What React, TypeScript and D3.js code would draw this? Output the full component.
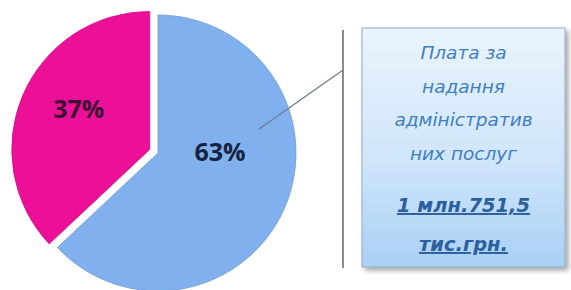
import React from "react";
import * as d3 from "d3";

const categories = ["Плата за надання адміністративних послуг", "Інші надходження"];
const shares = [63, 37];
const sliceColors = ["#80b1ee", "#ec0f98"];
const labelColors = ["#16233f", "#3b1030"];
const calloutLines = ["Плата за", "надання", "адміністратив", "них послуг"];
const amountLines = ["1 млн.751,5", "тис.грн."];

const W = 571;
const H = 290;

export default function App() {
  const cx = 158;
  const cy = 153;
  const r = 138;

  const pie = d3.pie<number>().sort(null).value((d) => d);
  const arcs = pie(shares);
  const arc = d3.arc<d3.PieArcDatum<number>>().innerRadius(0).outerRadius(r);
  const labelArc = d3.arc<d3.PieArcDatum<number>>().innerRadius(r * 0.6).outerRadius(r * 0.6);

  // the small slice is pulled out a bit
  const explode = (i: number) => {
    if (i === 0) return [0, 0];
    const a = (arcs[i].startAngle + arcs[i].endAngle) / 2;
    return [Math.sin(a) * 9, -Math.cos(a) * 9];
  };

  const boxX = 362;
  const boxY = 28;
  const boxW = 203;
  const boxH = 239;

  // leader line from the big slice to the callout
  const lead = d3.arc<d3.PieArcDatum<number>>().innerRadius(r * 0.75).outerRadius(r * 0.75);
  const leadStart = lead.centroid({ ...arcs[0], startAngle: 1.34, endAngle: 1.34 });

  // label nudges, so they sit as in the original
  const labelShift = [
    [-14, -35],
    [5, -9],
  ];

  return (
    <svg width={W} height={H} style={{ position: "absolute", left: 0, top: 0, background: "#fff" }}>
      <defs>
        <linearGradient id="boxGrad" x1="0" y1="0" x2="0" y2="1">
          <stop offset="0" stopColor="#eaf4fd" />
          <stop offset="0.55" stopColor="#cfe5fa" />
          <stop offset="1" stopColor="#a9d0f5" />
        </linearGradient>
        <filter id="shadow" x="-10%" y="-10%" width="125%" height="125%">
          <feDropShadow dx="3" dy="3" stdDeviation="2.5" floodColor="#000" floodOpacity="0.35" />
        </filter>
      </defs>

      <g transform={`translate(${cx},${cy})`}>
        {arcs.map((a, i) => {
          const [dx, dy] = explode(i);
          return (
            <path
              key={categories[i]}
              d={arc(a) || ""}
              transform={`translate(${dx},${dy})`}
              fill={sliceColors[i]}
              stroke={i === 0 ? "#6f9bd4" : "#d00c86"}
              strokeWidth={0.8}
            />
          );
        })}
        <line
          x1={leadStart[0]}
          y1={leadStart[1]}
          x2={343 - cx}
          y2={70 - cy}
          stroke="#6c7d92"
          strokeWidth={1.3}
        />
        {arcs.map((a, i) => {
          const [dx, dy] = explode(i);
          const [lx, ly] = labelArc.centroid(a);
          return (
            <text
              key={"l" + i}
              x={lx + dx + labelShift[i][0]}
              y={ly + dy + labelShift[i][1]}
              textAnchor="middle"
              dominantBaseline="central"
              fontFamily="'Open Sans', sans-serif"
              fontWeight={700}
              fontSize={25}
              fill={labelColors[i]}
            >
              {shares[i]}%
            </text>
          );
        })}
      </g>

      <line x1={343} y1={30} x2={343} y2={268} stroke="#6e6e6e" strokeWidth={1.6} />

      <rect
        x={boxX}
        y={boxY}
        width={boxW}
        height={boxH}
        fill="url(#boxGrad)"
        stroke="#8fa9c6"
        strokeWidth={1}
        filter="url(#shadow)"
      />
      {calloutLines.map((t, i) => (
        <text
          key={t}
          x={boxX + boxW / 2}
          y={59 + i * 33.5}
          textAnchor="middle"
          fontFamily="'DejaVu Sans', sans-serif"
          fontStyle="italic"
          fontSize={18.5}
          fill="#3f7fc0"
        >
          {t}
        </text>
      ))}
      {amountLines.map((t, i) => (
        <text
          key={t}
          x={boxX + boxW / 2}
          y={212 + i * 39}
          textAnchor="middle"
          fontFamily="'DejaVu Sans', sans-serif"
          fontStyle="italic"
          fontWeight={700}
          fontSize={19.5}
          fill="#2b5f9e"
          textDecoration="underline"
        >
          {t}
        </text>
      ))}
    </svg>
  );
}
